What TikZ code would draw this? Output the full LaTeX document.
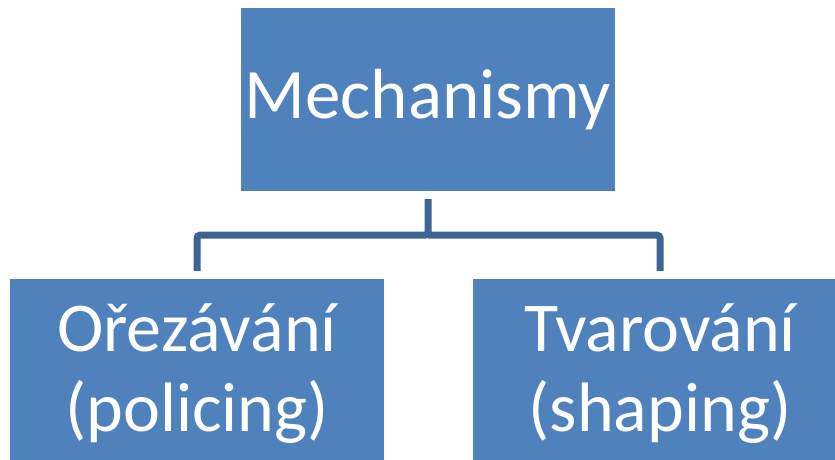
\documentclass[tikz,border=0pt]{standalone}
\usepackage{fontspec}
\setmainfont{Carlito}
\definecolor{boxblue}{RGB}{79, 129, 189}
\definecolor{linkblue}{RGB}{60, 100, 150}
\usetikzlibrary{positioning, calc}

\begin{document}
\begin{tikzpicture}[x=1pt, y=-1pt,
  box/.style={fill=boxblue, text=white, inner sep=0pt, align=center, minimum width=374pt},
  link/.style={draw=linkblue, line width=7pt, rounded corners=3pt}]
  \useasboundingbox (0,0) rectangle (835,459);
  \node[box, minimum height=183pt, font=\fontsize{71}{78}\selectfont] (mech) at (428,99.5) {Mechanismy};
  \node[box, minimum height=190pt, font=\fontsize{70}{79}\selectfont] (orez) at (197,374) {Ořezávání\\[1pt](policing)};
  \node[box, minimum height=190pt, font=\fontsize{70}{79}\selectfont] (tvar) at (660,374) {Tvarování\\[1pt](shaping)};
  \coordinate (hub) at ($(mech.south)+(0,44)$);
  \draw[link] ($(mech.south)+(0,8)$) -- (hub) -| ($(orez.north)+(0,-8)$);
  \draw[link] (hub) -| ($(tvar.north)+(0,-8)$);
\end{tikzpicture}
\end{document}
